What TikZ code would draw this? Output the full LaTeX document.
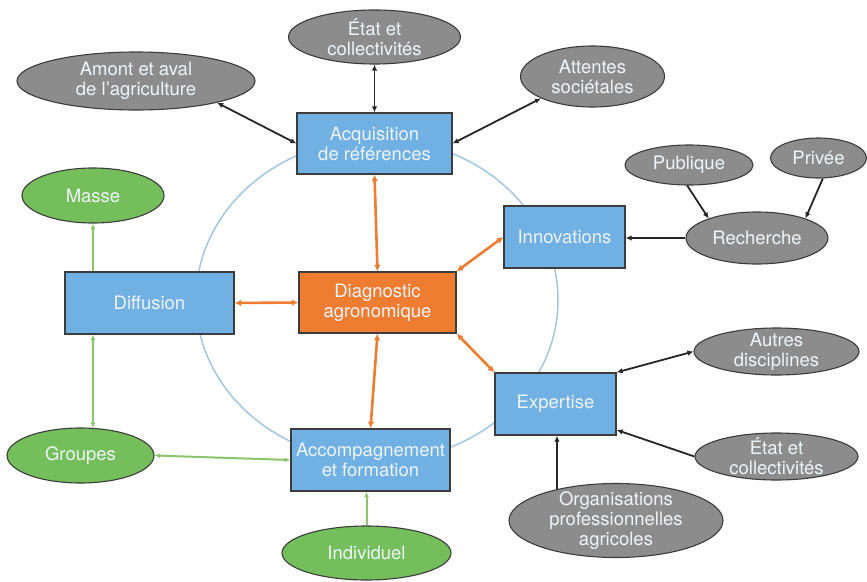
\documentclass[tikz,border=0pt]{standalone}
\usepackage{fontspec}
\setmainfont{TeX Gyre Heros}
\usetikzlibrary{shapes.geometric,arrows.meta,calc}
\definecolor{boxblue}{HTML}{70B0E2}
\definecolor{boxorange}{HTML}{EE7D31}
\definecolor{ellgray}{HTML}{8C8C8C}
\definecolor{ellgreen}{HTML}{74BF5B}
\definecolor{edgedark}{HTML}{3C3C3C}
\definecolor{circblue}{HTML}{A3C6E2}
\definecolor{arrorange}{HTML}{EE7D31}
\definecolor{arrgreen}{HTML}{8CC66C}
\definecolor{txtlight}{HTML}{EEF4F8}
\begin{document}
\begin{tikzpicture}[x=1pt,y=-1pt,
  bluebox/.style={draw=edgedark,line width=1.3pt,fill=boxblue,inner sep=0pt,align=center,text=txtlight,font=\fontsize{18.5}{20}\selectfont},
  orangebox/.style={bluebox,fill=boxorange},
  grayell/.style={ellipse,draw=edgedark,line width=1.1pt,fill=ellgray,inner sep=0pt},
  greenell/.style={ellipse,draw=edgedark,line width=1.1pt,fill=ellgreen,inner sep=0pt},
  elltext/.style={inner sep=0pt,align=center,text=txtlight,font=\fontsize{18.5}{20}\selectfont},
  blackarr/.style={line width=1.8pt,draw=black!85},
  bboth/.style={blackarr,{Latex[length=6pt,width=5.5pt]}-{Latex[length=6pt,width=5.5pt]}},
  bone/.style={blackarr,-{Latex[length=6pt,width=5.5pt]}},
  orangearr/.style={line width=2.6pt,draw=arrorange,{Latex[length=6.5pt,width=6.5pt]}-{Latex[length=6.5pt,width=6.5pt]}},
  greenarr/.style={line width=2pt,draw=arrgreen},
  gboth/.style={greenarr,{Latex[length=5.5pt,width=5pt]}-{Latex[length=5.5pt,width=5pt]}},
  gone/.style={greenarr,-{Latex[length=5.5pt,width=5pt]}}
]
\useasboundingbox (0,0) rectangle (867,581);
\fill[white] (0,0) rectangle (867,581);
% circle
\draw[circblue,line width=1.5pt] (377,300) ellipse [x radius=181, y radius=161];
% boxes
\node[bluebox,minimum width=155,minimum height=61] (acq) at (374.5,143.5) {Acquisition\\de références};
\node[bluebox,minimum width=121,minimum height=62] (innov) at (564.5,237) {Innovations};
\node[bluebox,minimum width=169,minimum height=62] (diff) at (149.5,303) {Diffusion};
\node[orangebox,minimum width=157,minimum height=61] (diag) at (377.5,302.5) {Diagnostic\\agronomique};
\node[bluebox,minimum width=121,minimum height=62] (expert) at (555.5,404) {Expertise};
\node[bluebox,minimum width=159,minimum height=62] (accomp) at (370.5,460) {Accompagnement\\et formation};
% gray ellipses
\node[grayell,minimum width=172,minimum height=54] (etat1) at (374.5,37) {};
\node[elltext] at (etat1) {État et\\collectivités};
\node[grayell,minimum width=238,minimum height=58] (amont) at (136,81) {};
\node[elltext] at (amont) {Amont et aval\\de l’agriculture};
\node[grayell,minimum width=144,minimum height=61] (attentes) at (592.5,76.5) {};
\node[elltext] at (attentes) {Attentes\\sociétales};
\node[grayell,minimum width=128,minimum height=40] (publique) at (689,165) {};
\node[elltext] at (publique) {Publique};
\node[grayell,minimum width=96,minimum height=40] (privee) at (818.5,158) {};
\node[elltext] at (privee) {Privée};
\node[grayell,minimum width=142,minimum height=52] (recherche) at (757,238) {};
\node[elltext] at (recherche) {Recherche};
\node[grayell,minimum width=165,minimum height=47] (autres) at (776.5,351.5) {};
\node[elltext] at (autres) {Autres\\disciplines};
\node[grayell,minimum width=163,minimum height=47] (etat2) at (776.5,456.5) {};
\node[elltext] at (etat2) {État et\\collectivités};
\node[grayell,minimum width=214,minimum height=74] (orga) at (616,520.5) {};
\node[elltext] at (orga) {Organisations\\professionnelles\\agricoles};
% green ellipses
\node[greenell,minimum width=142,minimum height=55] (masse) at (93,195.5) {};
\node[elltext] at (masse) {Masse};
\node[greenell,minimum width=147,minimum height=55] (groupes) at (80.5,455.5) {};
\node[elltext] at (groupes) {Groupes};
\node[greenell,minimum width=169,minimum height=54] (indiv) at (366.5,553) {};
\node[elltext] at (indiv) {Individuel};
% black connectors
\draw[bboth] (amont.-15) -- (acq.west);
\draw[bboth] (etat1.south) -- (etat1.south |- acq.north);
\draw[bboth] (attentes.203) -- (acq.east);
\draw[bone] (publique.-95) -- (recherche.158);
\draw[bone] (privee.-78) -- (recherche.22);
\draw[bone] (recherche.west) -- (recherche.west -| innov.east);
\draw[bboth] (expert.north east) -- (autres.west);
\draw[bone] (etat2.west) -- (expert.-23);
\draw[bone] (orga.152.7) -- (orga.152.7 |- expert.south);
% orange connectors
\draw[orangearr] (acq.south) -- (diag.north);
\draw[orangearr] (diff.east) -- (diag.west);
\draw[orangearr] (diag.north east) -- (innov.west);
\draw[orangearr] (diag.south east) -- (expert.north west);
\draw[orangearr] (diag.south) -- (accomp.north);
% green connectors
\draw[gone] (masse.south |- diff.north) -- (masse.south);
\draw[gboth] (masse.south |- diff.south) -- ($(masse.south |- groupes.north)+(0,0.5)$);
\draw[gboth] (groupes.east) -- (accomp.west);
\draw[gone] (indiv.north) -- (indiv.north |- accomp.south);
\end{tikzpicture}
\end{document}
